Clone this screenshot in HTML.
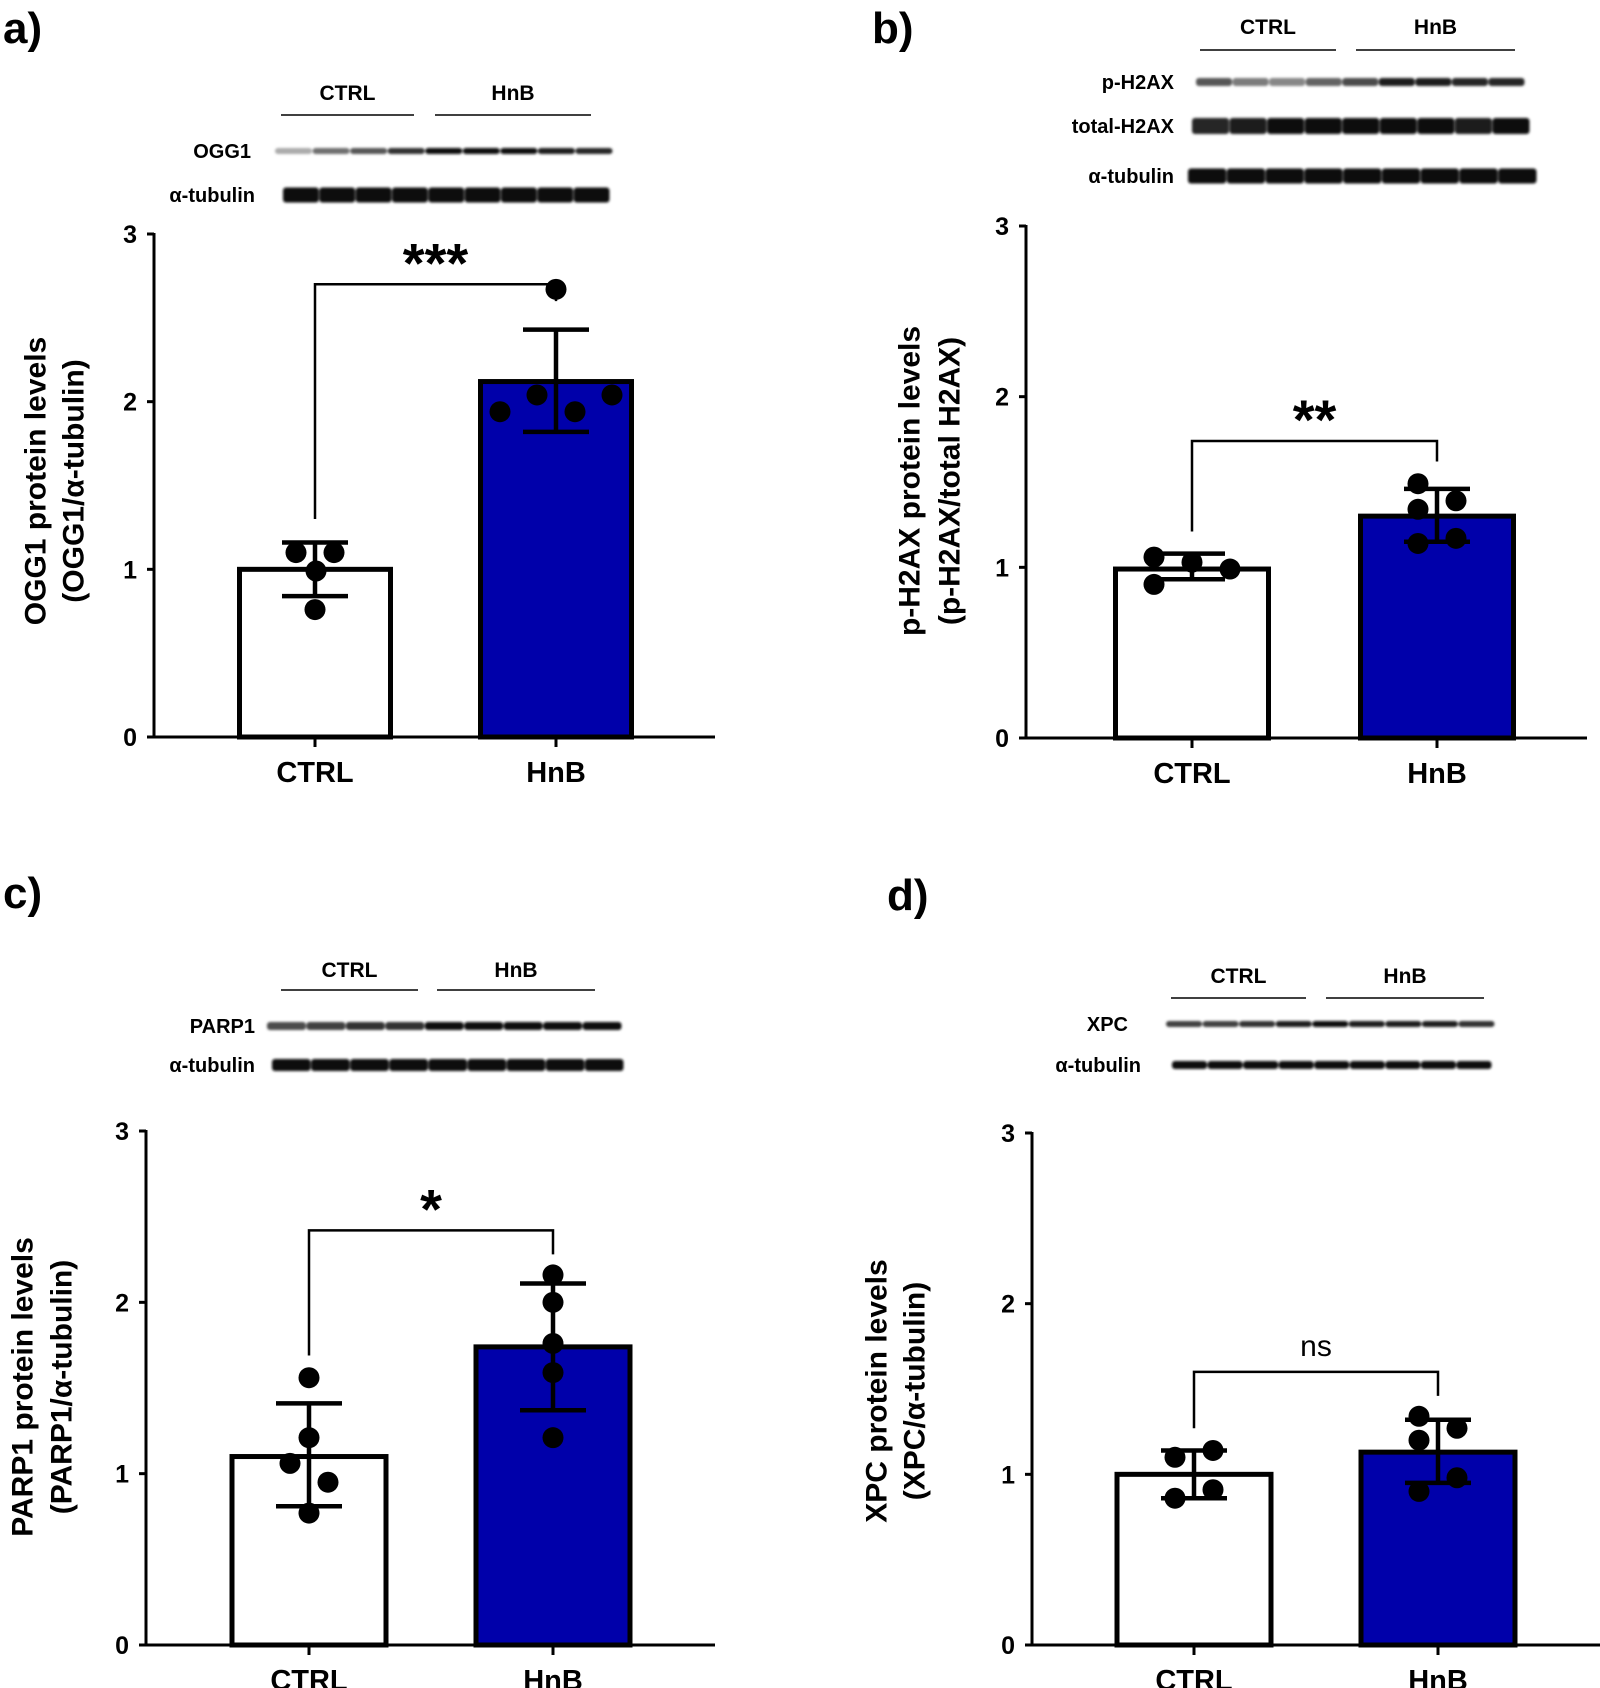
<!DOCTYPE html>
<html><head><meta charset="utf-8"><style>
html,body{margin:0;padding:0;background:#fff;}
svg{display:block;font-family:"Liberation Sans",Arial,sans-serif;font-weight:bold;}
</style></head><body>
<svg id="fig" width="1600" height="1688" viewBox="0 0 1600 1688" xmlns="http://www.w3.org/2000/svg">
<defs><filter id="bl" x="-5%" y="-100%" width="110%" height="300%"><feGaussianBlur stdDeviation="1.4"/></filter></defs>
</svg>
<script>
// ---- data ----
const categories = ["CTRL", "HnB"];
const yTicks = [0, 1, 2, 3];
const aMeans = [1.0, 2.12];
const aLow = [0.84, 1.82];
const aHigh = [1.16, 2.43];
const aCtrlPts = [1.10, 1.10, 0.99, 0.76];
const aHnbPts = [1.94, 2.04, 2.67, 1.94, 2.04];
const aSig = ["***", 2.70, 1.30, 2.60];
const bMeans = [0.99, 1.30];
const bLow = [0.93, 1.15];
const bHigh = [1.08, 1.46];
const bCtrlPts = [1.06, 1.03, 0.99, 0.90];
const bHnbPts = [1.49, 1.39, 1.34, 1.17, 1.14];
const bSig = ["**", 1.74, 1.21, 1.62];
const cMeans = [1.10, 1.74];
const cLow = [0.81, 1.37];
const cHigh = [1.41, 2.11];
const cCtrlPts = [1.56, 1.21, 1.06, 0.95, 0.77];
const cHnbPts = [2.16, 2.00, 1.76, 1.59, 1.21];
const cSig = ["*", 2.42, 1.69, 2.28];
const dMeans = [1.0, 1.13];
const dLow = [0.86, 0.95];
const dHigh = [1.14, 1.32];
const dCtrlPts = [1.10, 1.14, 0.91, 0.86];
const dHnbPts = [1.34, 1.27, 1.20, 0.98, 0.90];
const dSig = ["ns", 1.60, 1.27, 1.46];

// ---- layout ----
const NS = "http://www.w3.org/2000/svg";
const svg = document.getElementById('fig');
function mk(tag, attrs, parent) {
  const e = document.createElementNS(NS, tag);
  for (const k in attrs) e.setAttribute(k, attrs[k]);
  (parent || svg).appendChild(e);
  return e;
}
const panels = [
  {id:'a', lab:[3,27], ax:154, y0:737, y3:234, xend:715, cx:[315,556], bw:156,
   means:aMeans, low:aLow, high:aHigh, pts:[aCtrlPts,aHnbPts],
   jit:[[-19,19,1,0],[-56,-19,0,19,56]], sig:aSig,
   title:["OGG1 protein levels","(OGG1/\u03b1-tubulin)"], tx:[36,74], ty:481,
   hdr:{y:93, y2:115, c:[281,414], h:[435,591]},
   blots:[{name:"OGG1", lx:251, y:151, x0:275, x1:613, h:6, k:[0.35,0.6,0.7,0.85,1,1,1,0.95,0.9]},
          {name:"\u03b1-tubulin", lx:255, y:195, x0:283, x1:610, h:15, k:[1,1,1,1,1,1,1,1,1]}]},
  {id:'b', lab:[872,27], ax:1026, y0:738, y3:226, xend:1587, cx:[1192,1437], bw:158,
   means:bMeans, low:bLow, high:bHigh, pts:[bCtrlPts,bHnbPts],
   jit:[[-38,0,38,-38],[-19,19,-19,19,-19]], sig:bSig,
   title:["p-H2AX protein levels","(p-H2AX/total H2AX)"], tx:[910,950], ty:481,
   hdr:{y:27, y2:50, c:[1200,1336], h:[1356,1515]},
   blots:[{name:"p-H2AX", lx:1174, y:82, x0:1196, x1:1525, h:8, k:[0.7,0.55,0.5,0.65,0.75,0.95,0.95,0.9,0.9]},
          {name:"total-H2AX", lx:1174, y:126, x0:1192, x1:1530, h:16, k:[0.9,0.95,1,1,1,1,1,0.95,1]},
          {name:"\u03b1-tubulin", lx:1174, y:176, x0:1188, x1:1537, h:15, k:[1,1,1,1,1,1,1,1,1]}]},
  {id:'c', lab:[3,892], ax:146, y0:1645, y3:1131, xend:715, cx:[309,553], bw:159,
   means:cMeans, low:cLow, high:cHigh, pts:[cCtrlPts,cHnbPts],
   jit:[[0,0,-19,19,0],[0,0,0,0,0]], sig:cSig,
   title:["PARP1 protein levels","(PARP1/\u03b1-tubulin)"], tx:[23,62], ty:1387,
   hdr:{y:970, y2:990, c:[281,418], h:[437,595]},
   blots:[{name:"PARP1", lx:255, y:1026, x0:267, x1:622, h:8, k:[0.75,0.8,0.85,0.85,1,1,1,1,1]},
          {name:"\u03b1-tubulin", lx:255, y:1065, x0:272, x1:624, h:12, k:[1,1,1,1,1,1,1,1,1]}]},
  {id:'d', lab:[887,894], ax:1032, y0:1645, y3:1133, xend:1600, cx:[1194,1438], bw:159,
   means:dMeans, low:dLow, high:dHigh, pts:[dCtrlPts,dHnbPts],
   jit:[[-19,19,19,-19],[-19,19,-19,19,-19]], sig:dSig,
   title:["XPC protein levels","(XPC/\u03b1-tubulin)"], tx:[877,915], ty:1391,
   hdr:{y:976, y2:998, c:[1171,1306], h:[1326,1484]},
   blots:[{name:"XPC", lx:1128, y:1024, x0:1166, x1:1495, h:6, k:[0.8,0.8,0.85,0.95,1,0.95,0.95,0.95,0.85]},
          {name:"\u03b1-tubulin", lx:1141, y:1065, x0:1172, x1:1492, h:8, k:[1,1,1,1,1,1,1,1,1]}]}
];

panels.forEach(p => {
  const g = mk('g', {});
  
  
  const Y = v => p.y0 - (p.y0 - p.y3) * v / 3;
  const pl = mk('text', {x:p.lab[0], y:p.lab[1]+16, 'font-size':44}, g);
  pl.textContent = p.id + ')';
  
  
  ['c','h'].forEach((k,i) => {
    const r = p.hdr[k];
    const t = mk('text', {x:(r[0]+r[1])/2, y:p.hdr.y+7, 'font-size':21, 'text-anchor':'middle'}, g);
    t.textContent = categories[i];
    
    
    const l = mk('line', {x1:r[0], x2:r[1], y1:p.hdr.y2, y2:p.hdr.y2, stroke:'#000', 'stroke-width':1.5}, g);
    
    
  });
  p.blots.forEach(b => {
    const t = mk('text', {x:b.lx, y:b.y+7, 'font-size':20, 'text-anchor':'end'}, g);
    t.textContent = b.name;
    
    
    const lw = (b.x1 - b.x0) / 9;
    const bg = mk('g', {filter:'url(#bl)'}, g);
    
    
    b.k.forEach((k,i) => {
      const c = Math.round(255 - 240*k);
      mk('rect', {x:b.x0 + i*lw, y:b.y - b.h/2, width:lw - 0.5, height:b.h, rx:3, fill:`rgb(${c},${c},${c})`}, bg);
    });
  });
  const ya = mk('line', {x1:p.ax, x2:p.ax, y1:p.y3 - 1, y2:p.y0 + 1.5, stroke:'#000', 'stroke-width':3}, g);
  
  
  const xa = mk('line', {x1:p.ax - 7, x2:p.xend, y1:p.y0, y2:p.y0, stroke:'#000', 'stroke-width':3}, g);
  
  
  yTicks.forEach(v => {
    const tk = mk('line', {x1:p.ax - 7, x2:p.ax, y1:Y(v), y2:Y(v), stroke:'#000', 'stroke-width':3}, g);
    
    
    const tl = mk('text', {x:p.ax - 17, y:Y(v) + 9, 'font-size':25, 'text-anchor':'end'}, g);
    tl.textContent = v;
    
    
  });
  p.title.forEach((s,i) => {
    const t = mk('text', {x:p.tx[i], y:p.ty, 'font-size':30, 'text-anchor':'middle', 'dominant-baseline':'central', transform:`rotate(-90 ${p.tx[i]} ${p.ty})`}, g);
    t.textContent = s;
    
    
  });
  categories.forEach((c,i) => {
    const cx = p.cx[i];
    const bar = mk('rect', {x:cx - p.bw/2 + 2.5, y:Y(p.means[i]), width:p.bw - 5, height:p.y0 - Y(p.means[i]), fill:i ? '#0000aa' : '#fff', stroke:'#000', 'stroke-width':5}, g);
    
    
    const xt = mk('line', {x1:cx, x2:cx, y1:p.y0, y2:p.y0 + 10, stroke:'#000', 'stroke-width':3}, g);
    
    
    const xl = mk('text', {x:cx, y:p.y0 + 45, 'font-size':29, 'text-anchor':'middle'}, g);
    xl.textContent = c;
    
    
    p.pts[i].forEach((v,j) => {
      const pt = mk('circle', {cx:cx + p.jit[i][j], cy:Y(v), r:10.5, fill:'#000'}, g);
      
      
    });
    const eg = mk('g', {stroke:'#000', 'stroke-width':4.5}, g);
    
    
    mk('line', {x1:cx, x2:cx, y1:Y(p.high[i]), y2:Y(p.low[i])}, eg);
    mk('line', {x1:cx - 33, x2:cx + 33, y1:Y(p.high[i]), y2:Y(p.high[i])}, eg);
    mk('line', {x1:cx - 33, x2:cx + 33, y1:Y(p.low[i]), y2:Y(p.low[i])}, eg);
  });
  const s = p.sig;
  const br = mk('path', {d:`M${p.cx[0]},${Y(s[2])} V${Y(s[1])} H${p.cx[1]} V${Y(s[3])}`, fill:'none', stroke:'#000', 'stroke-width':2.5}, g);
  
  
  const ns = s[0] === 'ns';
  const st = mk('text', {x:(p.cx[0]+p.cx[1])/2, y:Y(s[1]) - (ns ? 16 : 2), 'font-size':ns ? 30 : 56, 'font-weight':ns ? 'normal' : 'bold', 'text-anchor':'middle'}, g);
  st.textContent = s[0];
  
  
});
</script>
</body></html>
